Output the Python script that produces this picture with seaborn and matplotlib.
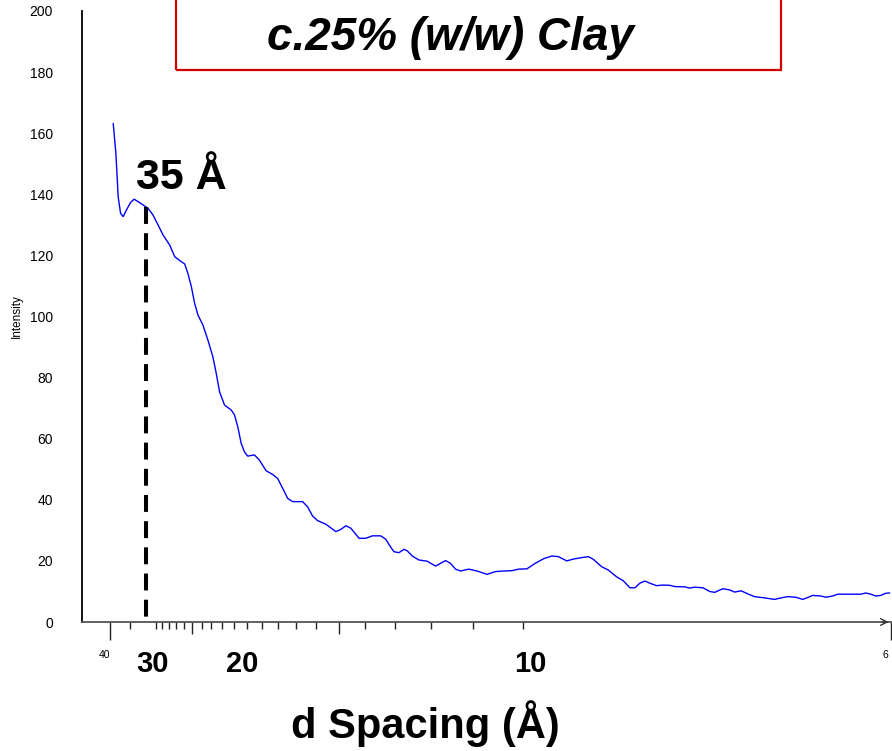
import numpy as np
import pandas as pd
import matplotlib
matplotlib.use("Agg")
import matplotlib.pyplot as plt
import matplotlib.transforms as mtransforms
import seaborn as sns
from matplotlib.patches import Rectangle
from matplotlib.ticker import MultipleLocator

# ---------------- data ----------------
two_theta = [2.260, 2.303, 2.340, 2.378, 2.420, 2.474, 2.538, 2.596, 2.660, 2.740,
             2.820, 2.900, 2.980, 3.060, 3.167, 3.248, 3.328, 3.408, 3.460, 3.515,
             3.568, 3.621, 3.701, 3.781, 3.861, 3.915, 3.968, 4.048, 4.155, 4.208,
             4.261, 4.315, 4.368, 4.421, 4.528, 4.608, 4.716, 4.821, 4.901, 4.981,
             5.061, 5.141, 5.302, 5.382, 5.462, 5.542, 5.676, 5.836, 5.916, 5.997,
             6.077, 6.209, 6.317, 6.422, 6.557, 6.637, 6.717, 6.770, 6.850, 6.930,
             6.983, 7.063, 7.170, 7.303, 7.437, 7.517, 7.598, 7.678, 7.758, 7.838,
             7.971, 8.103, 8.263, 8.398, 8.531, 8.664, 8.771, 8.904, 9.038, 9.171,
             9.304, 9.411, 9.544, 9.652, 9.759, 9.892, 9.972, 10.105, 10.212, 10.345,
             10.452, 10.559, 10.639, 10.719, 10.799, 10.879, 10.985, 11.092, 11.200, 11.280,
             11.440, 11.520, 11.600, 11.733, 11.840, 11.920, 12.051, 12.160, 12.240, 12.346,
             12.453, 12.560, 12.720, 12.881, 12.987, 13.094, 13.226, 13.334, 13.414, 13.494,
             13.627, 13.707, 13.814, 13.894, 14.054, 14.267, 14.347, 14.427, 14.507, 14.587,
             14.667, 14.730]
intensity = [163.2, 153.5, 139.2, 133.8, 132.7, 134.9, 137.3, 138.4, 137.6, 136.5,
             135.4, 133.2, 130.0, 126.7, 123.4, 119.6, 118.3, 117.2, 114.1, 109.8,
             104.3, 100.5, 97.2, 92.3, 86.8, 81.4, 75.4, 71.0, 69.4, 67.8,
             63.9, 58.5, 55.7, 54.3, 54.7, 53.0, 49.5, 48.3, 47.0, 43.8,
             40.5, 39.4, 39.4, 37.7, 34.7, 33.2, 32.0, 29.6, 30.3, 31.5,
             30.7, 27.4, 27.4, 28.2, 28.2, 27.1, 24.5, 23.0, 22.7, 23.8,
             23.3, 21.6, 20.3, 19.9, 18.3, 19.2, 20.1, 19.2, 17.3, 16.7,
             17.3, 16.7, 15.6, 16.5, 16.7, 16.8, 17.3, 17.4, 19.2, 20.7,
             21.6, 21.4, 20.0, 20.6, 21.0, 21.4, 20.5, 18.1, 17.0, 14.8,
             13.5, 11.2, 11.2, 12.7, 13.4, 12.7, 11.9, 12.1, 12.0, 11.6,
             11.5, 11.1, 11.4, 11.2, 10.0, 9.7, 10.9, 10.5, 9.8, 10.2,
             9.2, 8.3, 7.9, 7.4, 7.9, 8.3, 8.1, 7.4, 8.0, 8.7,
             8.5, 8.1, 8.5, 9.1, 9.1, 9.1, 9.5, 9.1, 8.5, 8.7,
             9.4, 9.5]

d_major = [40, 30, 20, 10, 6]
d_major_labels = ["40", "30", "20", "10", "6"]
d_minor = [35, 29, 28, 27, 26, 25, 24, 23, 22, 21, 19, 18, 17, 16, 15, 14, 13, 12, 11]
d_medium = [25, 15]
y_ticks = [0, 20, 40, 60, 80, 100, 120, 140, 160, 180, 200]

peak_two_theta = 2.783
peak_intensity = 136
peak_label = "35 Å"
title_text = "c.25% (w/w) Clay"
x_title = "d Spacing (Å)"
y_title = "Intensity"
WAVELENGTH = 1.5406  # Cu K-alpha


def d_to_2theta(d):
    d = np.asarray(d, dtype=float)
    return np.degrees(2 * np.arcsin(WAVELENGTH / (2 * d)))


# ---------------- style ----------------
sns.set_style("white")
plt.rcParams["font.family"] = ["Liberation Sans", "DejaVu Sans"]
plt.rcParams["text.color"] = "black"
plt.rcParams["axes.labelcolor"] = "black"
plt.rcParams["xtick.color"] = "black"
plt.rcParams["ytick.color"] = "black"

fig = plt.figure(figsize=(8.92, 7.51), dpi=100)
ax = fig.add_axes([82 / 892, 1 - 622 / 751, (891.5 - 82) / 892, (622 - 11) / 751])

df = pd.DataFrame({"two_theta": two_theta, "intensity": intensity})
sns.lineplot(data=df, x="two_theta", y="intensity", ax=ax, color="#0000ff",
             linewidth=1.0, sort=False)

# dashed marker line at the peak
ax.plot([peak_two_theta, peak_two_theta], [peak_intensity, 0], color="black",
        linewidth=2.9, linestyle=(0, (4.2, 2.3)), dash_capstyle="butt")

ax.set_xlim(1.759, 14.76)
ax.set_ylim(0, 200)

# y axis
ax.set_yticks(y_ticks)
ax.yaxis.set_minor_locator(MultipleLocator(5))
ax.tick_params(axis="y", which="major", length=10, width=1.0, color="#333333",
               labelsize=10, labelcolor="black", pad=11, direction="out")
ax.tick_params(axis="y", which="minor", length=7, width=1.0, color="#333333",
               direction="out")
ax.set_ylabel(y_title, fontsize=8.5, color="black")
ax.yaxis.set_label_coords(-0.073, 0.5)

# x axis
ax.set_xticks(d_to_2theta(d_major))
ax.set_xticklabels([""] * len(d_major))
ax.set_xticks(d_to_2theta(d_minor), minor=True)
ax.tick_params(axis="x", which="both", length=5, width=1.0, color="#222222",
               direction="out", bottom=True)
for d, tick in zip(d_major, ax.xaxis.get_major_ticks()):
    if d in (40, 6):
        tick.tick1line.set_markersize(13)
for d, tick in zip(d_minor, ax.xaxis.get_minor_ticks()):
    if d in d_medium:
        tick.tick1line.set_markersize(8.6)
ax.set_xlabel("")

xt = ax.get_xaxis_transform()
label_shift_px = {"40": -5, "30": -3, "20": -5, "10": 8, "6": -6}
for d, lab in zip(d_major, d_major_labels):
    tr = xt + mtransforms.ScaledTranslation(label_shift_px[lab] / 100, 0,
                                            fig.dpi_scale_trans)
    if lab in ("40", "6"):
        ax.text(d_to_2theta(d), -0.054, lab, transform=tr, ha="center",
                va="center", fontsize=7.5, color="black", clip_on=False)
    else:
        ax.text(d_to_2theta(d), -0.082, lab, transform=tr, ha="center",
                va="baseline", fontsize=21, fontweight="bold", color="black",
                clip_on=False)

for side in ("top", "right"):
    ax.spines[side].set_visible(False)
ax.spines["left"].set_color("black")
ax.spines["left"].set_linewidth(1.3)
ax.spines["bottom"].set_color("#555555")
ax.spines["bottom"].set_linewidth(1.3)

ax.annotate("", xy=(1.0, 0), xytext=(0.985, 0), xycoords="axes fraction",
            arrowprops=dict(arrowstyle="->", color="#333333", lw=1.0,
                            mutation_scale=12), annotation_clip=False)

# annotation label for the peak
fig.text(136 / 892, 1 - 189 / 751, peak_label, ha="left", va="baseline",
         fontsize=31, fontweight="bold", color="black")

# title box
fig.add_artist(Rectangle((176 / 892, 1 - 70 / 751), (781 - 176) / 892, 0.2,
                         transform=fig.transFigure, fill=False,
                         edgecolor="#d40000", linewidth=1.6, clip_on=False))
fig.text(450 / 892, 1 - 50 / 751, title_text, ha="center", va="baseline",
         fontsize=33, fontweight="bold", fontstyle="italic", color="black")

# x title
fig.text(425 / 892, 1 - 738 / 751, x_title, ha="center", va="baseline",
         fontsize=30, fontweight="bold", color="black")

fig.savefig("out.png", dpi=100)
